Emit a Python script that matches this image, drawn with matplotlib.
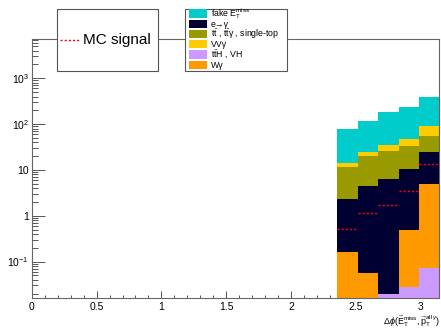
import numpy as np
import matplotlib
matplotlib.use("Agg")
import matplotlib.pyplot as plt
from matplotlib.patches import Rectangle
from matplotlib.lines import Line2D
from matplotlib.ticker import FixedLocator, FixedFormatter, LogLocator, MultipleLocator, NullFormatter

plt.rcParams['font.family'] = ['Liberation Sans', 'DejaVu Sans']
plt.rcParams['mathtext.fontset'] = 'custom'
plt.rcParams['mathtext.rm'] = 'Liberation Sans'
plt.rcParams['mathtext.it'] = 'Liberation Sans:italic'

# 20 bins of pi/20 over [0, pi]; only the last five are filled
edges = np.linspace(0, np.pi, 21)[15:]
left = edges[:-1]

# stack components, bottom to top
labels = ['$\\mathrm{t\\bar{t}}$H , VH', 'Wγ', 'e→γ',
          '$\\mathrm{t\\bar{t}}$ , $\\mathrm{t\\bar{t}}$γ , single-top', 'VVγ',
          'fake $\\mathrm{E_T^{miss}}$']
ttH_VH = [0.0, 0.0, 0.02, 0.028, 0.071]
w_gamma = [0.159, 0.057, 0.0, 0.47, 4.78]
e_to_gamma = [2.14, 4.39, 6.28, 9.8, 20.2]
ttbar = [9.1, 15.5, 19.7, 23.4, 31.0]
vv_gamma = [2.5, 5.0, 9.0, 14.3, 36.0]
fake_met = [63.0, 94.0, 149.0, 185.0, 306.0]
mc_signal = [0.51, 1.13, 1.74, 3.4, 13.5]

colors = ['#cc99ff', '#ff9900', '#000033', '#999900', '#ffcc00', '#00cccc']
series = [ttH_VH, w_gamma, e_to_gamma, ttbar, vv_gamma, fake_met]
# legend order as in the reference box (indices into the lists above)
legend_order = [5, 2, 3, 4, 0, 1]

fig = plt.figure(figsize=(4.41, 3.30), dpi=100)
ax = fig.add_axes([31.7 / 441, 1 - 298 / 330, (439.3 - 31.7) / 441, (298 - 39) / 330])

width = edges[1] - edges[0]
bottom = np.zeros(len(left))
for vals, col in zip(series, colors):
    vals = np.array(vals)
    ax.bar(left, vals, width=width, bottom=bottom, align='edge', color=col,
           linewidth=0, zorder=2)
    bottom = bottom + vals

ax.hlines(mc_signal, left, left + width, colors='red', linestyles=(0, (1.5, 1.5)),
          linewidth=1.0, zorder=3)

ax.set_yscale('log')
ax.set_xlim(0, np.pi)
ax.set_ylim(0.016, 7200)

yt = [0.1, 1, 10, 100, 1000]
ax.yaxis.set_major_locator(FixedLocator(yt))
ax.yaxis.set_major_formatter(FixedFormatter(['10$^{-1}$', '1', '10', '10$^{2}$', '10$^{3}$']))
ax.yaxis.set_minor_locator(LogLocator(base=10, subs=np.arange(2, 10), numticks=20))
ax.yaxis.set_minor_formatter(NullFormatter())
ax.xaxis.set_major_locator(FixedLocator([0, 0.5, 1, 1.5, 2, 2.5, 3]))
ax.xaxis.set_major_formatter(FixedFormatter(['0', '0.5', '1', '1.5', '2', '2.5', '3']))
ax.xaxis.set_minor_locator(MultipleLocator(0.1))

ax.tick_params(axis='both', which='both', direction='in', top=False, right=False,
               colors='#555555', labelcolor='black', labelsize=7.5, width=0.7)
ax.tick_params(axis='y', which='major', length=9, pad=2)
ax.tick_params(axis='y', which='minor', length=4.5)
ax.tick_params(axis='x', which='major', length=5, pad=3)
ax.tick_params(axis='x', which='minor', length=2.5)
for s in ax.spines.values():
    s.set_color('#666666')
    s.set_linewidth(0.8)

fig.text(440 / 441, 1 - 321 / 330,
         r'$\Delta\phi(\vec{\mathrm{E}}_{\mathrm{T}}^{\mathrm{miss}},\vec{\mathrm{p}}_{\mathrm{T}}^{\mathrm{all}\,\gamma})$',
         ha='right', va='center', fontsize=6.5)

# legend boxes drawn in figure pixels
def px_rect(x0, y0, x1, y1, **kw):
    return Rectangle((x0 / 441, 1 - y1 / 330), (x1 - x0) / 441, (y1 - y0) / 330,
                     transform=fig.transFigure, **kw)

fig.patches.append(px_rect(57, 9, 158, 71, facecolor='white', edgecolor='#555555',
                           linewidth=0.8, zorder=5))
fig.lines.append(Line2D([60 / 441, 80 / 441], [1 - 40 / 330, 1 - 40 / 330],
                        transform=fig.transFigure, color='red',
                        linestyle=(0, (1.5, 1.5)), linewidth=1.0, zorder=6))
fig.text(83 / 441, 1 - 40 / 330, 'MC signal', fontsize=11, va='center', ha='left', zorder=6)

fig.patches.append(px_rect(185, 9, 287, 71, facecolor='white', edgecolor='#555555',
                           linewidth=0.8, zorder=5))
rows = [13.5, 24, 34, 44, 54.5, 65]
for i, yc in zip(legend_order, rows):
    fig.patches.append(px_rect(189, yc - 4, 207, yc + 4, facecolor=colors[i],
                               edgecolor='none', zorder=6))
    fig.text(211 / 441, 1 - (yc + 0.5) / 330, labels[i], fontsize=6.3, va='center',
             ha='left', zorder=6)

fig.savefig('out.png', dpi=100)
